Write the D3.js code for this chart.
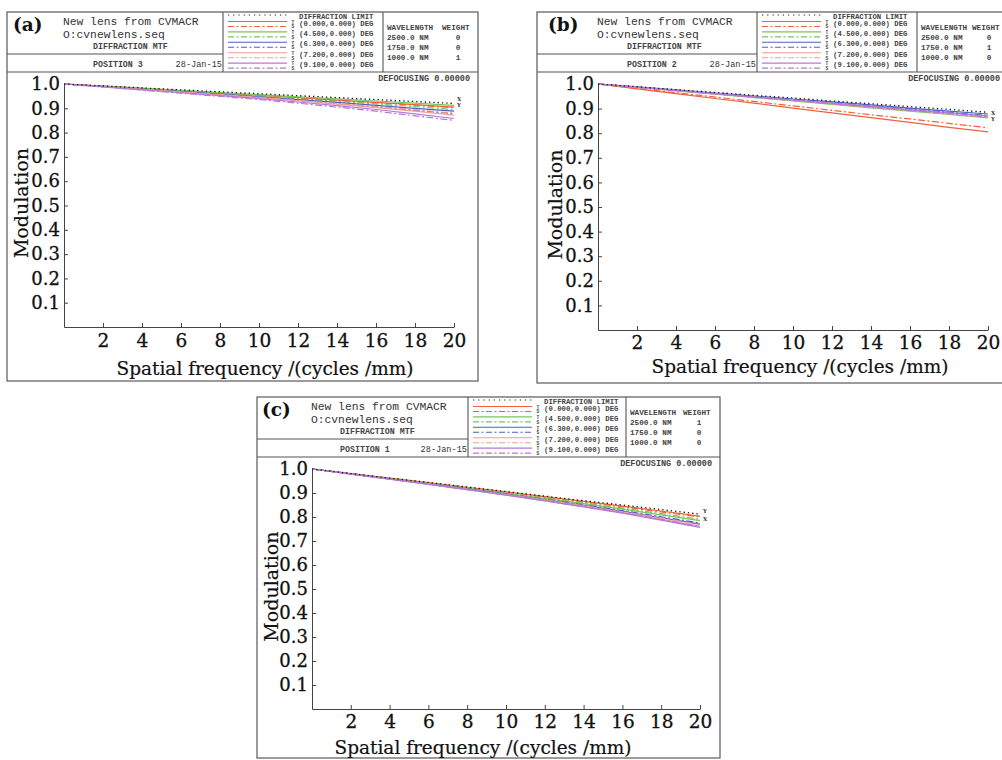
<!DOCTYPE html>
<html><head><meta charset="utf-8">
<script src="https://cdn.jsdelivr.net/npm/d3@7"></script>
<style>body{margin:0;background:#fff}</style>
</head><body>
<svg id="chart" width="1002" height="760"></svg>
<script>
// ---------------- DATA ----------------
const freqs = [0, 2, 4, 6, 8, 10, 12, 14, 16, 18, 20];
const xTickValues = [2, 4, 6, 8, 10, 12, 14, 16, 18, 20];
const yTickValues = [0.1, 0.2, 0.3, 0.4, 0.5, 0.6, 0.7, 0.8, 0.9, 1.0];
const fieldLabels = ["(0.000,0.000) DEG", "(4.500,0.000) DEG", "(6.300,0.000) DEG", "(7.200,0.000) DEG", "(9.100,0.000) DEG"];
const wavelengthLabels = ["2500.0 NM", "1750.0 NM", "1000.0 NM"];
const panelNames = ["(a)", "(b)", "(c)"];
const positionLabels = ["POSITION 3", "POSITION 2", "POSITION 1"];
const weightsA = [0, 0, 1];
const weightsB = [0, 1, 0];
const weightsC = [1, 0, 0];

// Panel (a) — POSITION 3
const diffA = [1, .992, .984, .976, .968, .960, .952, .944, .936, .928, .920];
const tanA = [
  [1, .991, .982, .972, .963, .953, .944, .934, .924, .915, .905],
  [1, .991, .983, .974, .965, .956, .947, .939, .930, .921, .912],
  [1, .990, .979, .969, .958, .947, .936, .924, .912, .900, .888],
  [1, .989, .978, .967, .955, .944, .931, .917, .903, .888, .872],
  [1, .988, .976, .964, .952, .940, .926, .911, .895, .877, .858]
];
const sagA = [
  [1, .991, .981, .972, .962, .952, .942, .932, .923, .913, .903],
  [1, .990, .981, .971, .961, .951, .940, .929, .918, .907, .895],
  [1, .989, .979, .968, .957, .945, .933, .920, .906, .892, .878],
  [1, .989, .978, .967, .956, .945, .933, .920, .907, .894, .880],
  [1, .988, .975, .962, .949, .936, .921, .905, .888, .869, .850]
];
const endLabelsA = [["X", 0.940], ["Y", 0.914]];

// Panel (b) — POSITION 2
const diffB = [1, .989, .977, .966, .954, .943, .931, .920, .908, .897, .885];
const tanB = [
  [1, .980, .961, .941, .922, .902, .883, .863, .844, .824, .805],
  [1, .986, .972, .959, .945, .931, .917, .903, .890, .876, .862],
  [1, .988, .976, .963, .951, .939, .927, .915, .902, .890, .878],
  [1, .987, .974, .960, .947, .934, .921, .908, .894, .881, .868],
  [1, .987, .974, .961, .948, .935, .922, .909, .896, .883, .870]
];
const sagB = [
  [1, .982, .964, .947, .929, .911, .893, .875, .858, .840, .822],
  [1, .987, .974, .961, .948, .935, .922, .909, .896, .883, .870],
  [1, .987, .974, .962, .949, .936, .923, .910, .898, .885, .872],
  [1, .987, .973, .960, .946, .933, .919, .905, .892, .878, .865],
  [1, .987, .973, .960, .946, .933, .920, .906, .893, .879, .866]
];
const endLabelsB = [["X", 0.884], ["Y", 0.858]];

// Panel (c) — POSITION 1
const diffC = [1, .981, .962, .944, .925, .906, .887, .868, .850, .831, .812];
const tanC = [
  [1, .981, .962, .943, .924, .905, .885, .865, .845, .825, .804],
  [1, .980, .960, .940, .920, .899, .878, .856, .833, .809, .785],
  [1, .980, .959, .938, .917, .895, .872, .849, .824, .797, .770],
  [1, .979, .958, .937, .915, .892, .869, .845, .819, .791, .762],
  [1, .979, .958, .936, .914, .891, .867, .842, .816, .787, .757]
];
const sagC = [
  [1, .981, .962, .942, .923, .903, .883, .863, .842, .821, .800],
  [1, .980, .961, .941, .921, .901, .880, .859, .837, .814, .790],
  [1, .980, .959, .939, .918, .896, .874, .851, .827, .801, .775],
  [1, .980, .959, .938, .916, .894, .871, .847, .822, .796, .768],
  [1, .979, .958, .936, .914, .892, .868, .843, .818, .789, .760]
];
const endLabelsC = [["Y", 0.827], ["X", 0.792]];

// ---------------- STYLE / LAYOUT ----------------
const fieldColors = ["#f0603c", "#7cc45a", "#4a62c8", "#f49a92", "#b478d8"];
const mono = "'Liberation Mono', 'DejaVu Sans Mono', monospace";
const serif = "'DejaVu Serif', serif";

const layouts = [
  {x: 7, y: 12, w: 471, h: 369, labelX: 6, titleX: 56, subX: 86, col1: 216, col2: 376, wgtX: 59, wgtV: 75, defEnd: 463,
   plot: {x0: 64, x1: 454, yTop: 84, yBot: 327}, xTickY: 340, xTitleY: 368, xTitleCX: 265, yTitleX: 21},
  {x: 537, y: 12, w: 475, h: 371, labelX: 11, titleX: 60, subX: 90, col1: 220, col2: 380, wgtX: 55, wgtV: 72, defEnd: 463,
   plot: {x0: 598, x1: 988, yTop: 84, yBot: 330}, xTickY: 342, xTitleY: 366, xTitleCX: 800, yTitleX: 555},
  {x: 257, y: 397, w: 463, h: 361, labelX: 5, titleX: 54, subX: 83, col1: 211, col2: 369, wgtX: 57, wgtV: 73, defEnd: 455,
   plot: {x0: 312, x1: 700, yTop: 469, yBot: 709}, xTickY: 721, xTitleY: 747, xTitleCX: 483, yTitleX: 271}
];

const panelData = [
  {diff: diffA, tan: tanA, sag: sagA, weights: weightsA, ends: endLabelsA},
  {diff: diffB, tan: tanB, sag: sagB, weights: weightsB, ends: endLabelsB},
  {diff: diffC, tan: tanC, sag: sagC, weights: weightsC, ends: endLabelsC}
];

const svg = d3.select("#chart");
svg.append("rect").attr("width", 1002).attr("height", 760).attr("fill", "#fff");

function txt(g, x, y, s, size, opts = {}) {
  return g.append("text").attr("x", x).attr("y", y).text(s)
    .attr("font-family", opts.family || mono)
    .attr("font-size", size)
    .attr("font-weight", opts.weight || "normal")
    .attr("fill", opts.fill || "#333")
    .attr("text-anchor", opts.anchor || "start");
}

function drawPanel(i) {
  const L = layouts[i], D = panelData[i];
  const g = svg.append("g").attr("transform", `translate(${L.x},${L.y})`);
  g.append("rect").attr("x", 0).attr("y", 0).attr("width", L.w).attr("height", L.h)
    .attr("fill", "#fff").attr("stroke", "#666").attr("stroke-width", 1.3);
  const ln = (x1, y1, x2, y2) => g.append("line").attr("x1", x1).attr("y1", y1).attr("x2", x2).attr("y2", y2)
    .attr("stroke", "#555").attr("stroke-width", 1.1);
  ln(0, 60, L.w, 60);
  ln(0, 42, L.col1, 42);
  ln(L.col1, 0, L.col1, 60);
  ln(L.col2, 0, L.col2, 60);

  txt(g, L.labelX, 18.5, panelNames[i], 18.5, {family: serif, fill: "#111", weight: "bold"});
  txt(g, L.titleX, 13, "New lens from CVMACR", 11.3);
  txt(g, L.titleX, 26, "O:cvnewlens.seq", 11.3);
  txt(g, L.subX, 37, "DIFFRACTION MTF", 8.3, {weight: "bold", fill: "#444"});
  txt(g, L.subX, 55, positionLabels[i], 8.3, {weight: "bold", fill: "#444"});
  txt(g, L.col1 - 1, 55, "28-Jan-15", 8.6, {anchor: "end", fill: "#333"});

  // legend
  const lx0 = L.col1 + 5, lx1 = L.col1 + 64;
  g.append("line").attr("x1", lx0).attr("x2", lx1).attr("y1", 3).attr("y2", 3)
    .attr("stroke", "#222").attr("stroke-width", 1.1).attr("stroke-dasharray", "1.2,4");
  txt(g, L.col1 + 76, 6.5, "DIFFRACTION LIMIT", 7.3, {weight: "bold", fill: "#444"});
  fieldLabels.forEach((f, k) => {
    const cy = 11 + k * 10.4;
    g.append("line").attr("x1", lx0).attr("x2", lx1).attr("y1", cy - 1.5).attr("y2", cy - 1.5)
      .attr("stroke", fieldColors[k]).attr("stroke-width", 1.1);
    g.append("line").attr("x1", lx0).attr("x2", lx1).attr("y1", cy + 3.5).attr("y2", cy + 3.5)
      .attr("stroke", fieldColors[k]).attr("stroke-width", 1.1).attr("stroke-dasharray", "6,2.5,2,2.5");
    txt(g, L.col1 + 70, cy + 0.8, "T", 4.6, {weight: "bold", anchor: "middle", fill: "#444"});
    txt(g, L.col1 + 70, cy + 5.3, "S", 4.6, {weight: "bold", anchor: "middle", fill: "#444"});
    txt(g, L.col1 + 76, cy + 2.6, f, 7.3, {weight: "bold", fill: "#444"});
  });

  // wavelengths
  txt(g, L.col2 + 4, 17.5, "WAVELENGTH", 7.7, {weight: "bold", fill: "#444"});
  txt(g, L.col2 + L.wgtX, 17.5, "WEIGHT", 7.7, {weight: "bold", fill: "#444"});
  wavelengthLabels.forEach((w, k) => {
    const by = 27.5 + k * 10;
    txt(g, L.col2 + 4, by, w, 7.7, {weight: "bold", fill: "#444"});
    txt(g, L.col2 + L.wgtV, by, String(D.weights[k]), 7.7, {weight: "bold", fill: "#444", anchor: "middle"});
  });
  txt(g, L.defEnd, 68.5, "DEFOCUSING 0.00000", 8.5, {weight: "bold", fill: "#444", anchor: "end"});

  // ---- plot (absolute coordinates) ----
  const P = L.plot;
  const x = d3.scaleLinear().domain([0, 20]).range([P.x0, P.x1]);
  const y = d3.scaleLinear().domain([0, 1]).range([P.yBot, P.yTop]);
  const pg = svg.append("g");

  const xAxis = d3.axisBottom(x).tickValues(xTickValues).tickFormat(d3.format("d"))
    .tickSizeInner(-4).tickSizeOuter(0).tickPadding(L.xTickY - P.yBot - 6.5);
  const gx = pg.append("g").attr("transform", `translate(0,${P.yBot})`).call(xAxis);
  gx.selectAll("text").attr("font-family", serif).attr("font-size", 18.5).attr("fill", "#111")
    .attr("stroke", "#111").attr("stroke-width", 0.3)
    .attr("y", L.xTickY - P.yBot - 6.5);
  gx.selectAll("path,line").attr("stroke", "#444").attr("stroke-width", 1);

  const yAxis = d3.axisLeft(y).tickValues(yTickValues).tickFormat(d3.format(".1f"))
    .tickSizeInner(-4).tickSizeOuter(0).tickPadding(4);
  const gy = pg.append("g").attr("transform", `translate(${P.x0},0)`).call(yAxis);
  gy.selectAll("text").attr("font-family", serif).attr("font-size", 18).attr("fill", "#111")
    .attr("stroke", "#111").attr("stroke-width", 0.3);
  gy.selectAll("path,line").attr("stroke", "#444").attr("stroke-width", 1);

  pg.append("text").attr("x", L.xTitleCX).attr("y", L.xTitleY + 6.5).attr("text-anchor", "middle")
    .attr("font-family", serif).attr("font-size", 18.5).attr("fill", "#111")
    .attr("stroke", "#111").attr("stroke-width", 0.2)
    .text("Spatial frequency /(cycles /mm)");
  const ymid = y(0.51);
  pg.append("text").attr("transform", `translate(${L.yTitleX + 6.5},${ymid}) rotate(-90)`)
    .attr("text-anchor", "middle").attr("font-family", serif).attr("font-size", 19).attr("fill", "#111")
    .attr("stroke", "#111").attr("stroke-width", 0.2)
    .text("Modulation");

  // curves
  const line = d3.line().x((d, j) => x(freqs[j])).y(d => y(d));
  D.tan.forEach((s, k) => {
    pg.append("path").attr("d", line(s)).attr("fill", "none")
      .attr("stroke", fieldColors[k]).attr("stroke-width", 1.2);
    pg.append("path").attr("d", line(D.sag[k])).attr("fill", "none")
      .attr("stroke", fieldColors[k]).attr("stroke-width", 1.2).attr("stroke-dasharray", "7,2.5,2,2.5");
  });
  pg.append("path").attr("d", line(D.diff)).attr("fill", "none")
    .attr("stroke", "#111").attr("stroke-width", 1.3).attr("stroke-dasharray", "1.3,3");

  D.ends.forEach(([t, v]) => {
    pg.append("text").attr("x", x(20) + 3).attr("y", y(v) + 2).text(t)
      .attr("font-family", serif).attr("font-size", 5.5).attr("font-weight", "bold").attr("fill", "#333");
  });
}

[0, 1, 2].forEach(drawPanel);
</script>
</body></html>
